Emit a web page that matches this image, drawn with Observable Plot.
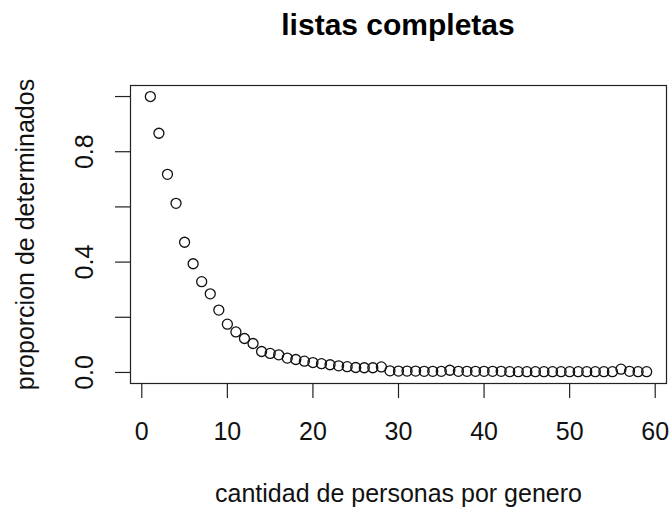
<!DOCTYPE html>
<html>
<head>
<meta charset="utf-8">
<script src="https://cdn.jsdelivr.net/npm/d3@7"></script>
<script src="https://cdn.jsdelivr.net/npm/@observablehq/plot@0.6"></script>
<style>
  body { margin: 0; background: #fff; font-family: "Liberation Sans", Arial, sans-serif; }
  #title { position: relative; width: 671px; height: 60px; }
  #title span { position: absolute; top: 10px; left: 130px; width: 536px; text-align: center;
    font: bold 30px/30px "Liberation Sans", Arial, sans-serif; color: #000; }
</style>
</head>
<body>
<div id="title"><span>listas completas</span></div>
<div id="chart"></div>
<script>
const titleText = "listas completas";
const xLabel = "cantidad de personas por genero";
const yLabel = "proporcion de determinados";
const personas = [1,2,3,4,5,6,7,8,9,10,11,12,13,14,15,16,17,18,19,20,21,22,23,24,25,26,27,28,29,30,31,32,33,34,35,36,37,38,39,40,41,42,43,44,45,46,47,48,49,50,51,52,53,54,55,56,57,58,59];
const proporcion = [1.000,0.867,0.718,0.613,0.472,0.394,0.329,0.285,0.226,0.175,
  0.147,0.123,0.105,0.076,0.069,0.064,0.052,0.047,0.041,0.036,
  0.032,0.028,0.024,0.021,0.018,0.017,0.017,0.020,0.006,0.005,
  0.005,0.005,0.004,0.004,0.004,0.008,0.004,0.004,0.004,0.004,
  0.004,0.004,0.003,0.003,0.003,0.003,0.003,0.003,0.003,0.003,
  0.003,0.003,0.003,0.003,0.003,0.012,0.004,0.003,0.003];
const xTicks = [0,10,20,30,40,50,60];
const yTicks = [0,0.2,0.4,0.6,0.8,1.0];
const yTickLabels = [0,0.4,0.8];

const data = personas.map((p, i) => ({x: p, y: proporcion[i]}));
const font = "Liberation Sans, Arial, sans-serif";

const chart = Plot.plot({
  width: 671,
  height: 448,
  marginTop: 25,
  marginBottom: 125,
  marginLeft: 130,
  marginRight: 5,
  style: {fontFamily: font, background: "#fff", color: "#000", overflow: "visible"},
  x: {domain: [-1.32, 61.32]},
  y: {domain: [-0.04, 1.04]},
  marks: [
    Plot.frame({stroke: "#222", strokeWidth: 1.2}),
    Plot.axisX({ticks: xTicks, tickSize: 15, tickPadding: 24, fontSize: 25, label: null, stroke: "#222", strokeWidth: 1.2, fill: "#111"}),
    Plot.axisY({ticks: yTicks, tickSize: 15, tickFormat: () => "", label: null, stroke: "#222", strokeWidth: 1.2}),
    Plot.text(yTickLabels, {y: d => d, text: d => d.toFixed(1), frameAnchor: "left", dx: -46, rotate: -90, fontSize: 25, textAnchor: "middle", lineAnchor: "middle", fill: "#111"}),
    Plot.text([xLabel], {text: d => d, frameAnchor: "bottom", dy: 110, fontSize: 25, textAnchor: "middle", lineAnchor: "middle", fill: "#111"}),
    Plot.text([yLabel], {text: d => d, frameAnchor: "left", dx: -105, rotate: -90, fontSize: 25, textAnchor: "middle", lineAnchor: "middle", fill: "#111"}),
    Plot.dot(data, {x: "x", y: "y", r: 5, stroke: "#111", strokeWidth: 1.3, fill: "none"})
  ]
});
document.getElementById("chart").appendChild(chart);
</script>
</body>
</html>
